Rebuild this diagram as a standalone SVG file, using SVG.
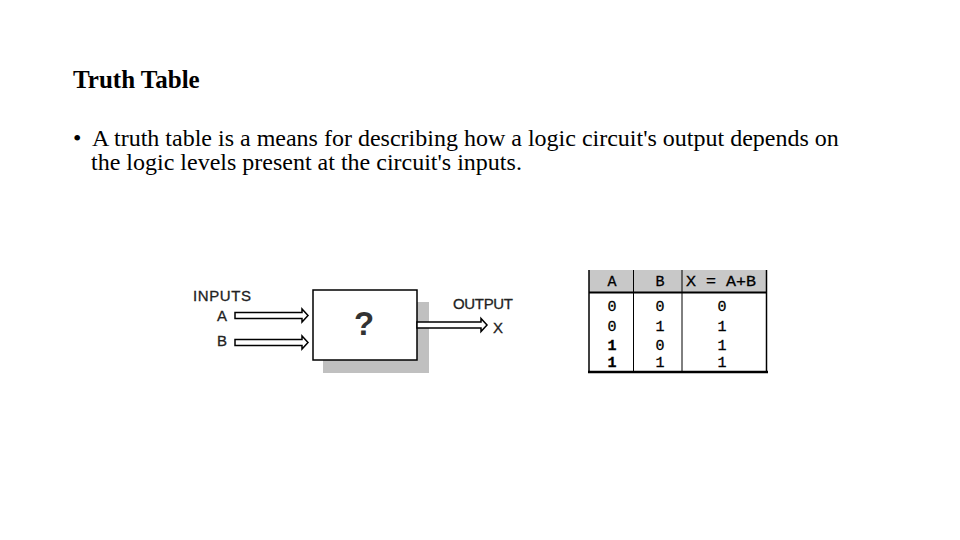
<svg xmlns="http://www.w3.org/2000/svg" width="960" height="540" viewBox="0 0 960 540">
<defs>
<style>
.title{font-family:"Liberation Serif",serif;font-weight:bold;font-size:25px;fill:#000}
.body{font-family:"Liberation Serif",serif;font-size:24px;fill:#000}
.lbl{font-family:"Liberation Sans",Arial,sans-serif;font-size:15px;fill:#222;stroke:#222;stroke-width:0.3}
.tt{font-family:"Liberation Mono",monospace;font-size:15px;fill:#000;stroke:#000;stroke-width:0.3;text-anchor:middle}
.hol{fill:#fff;stroke:#000;stroke-width:1.5}
</style>
</defs>
<rect width="960" height="540" fill="#fff"/>
<text class="title" x="73" y="88">Truth Table</text>
<text class="body" x="73" y="146">•</text>
<text class="body" x="92" y="146">A truth table is a means for describing how a logic circuit's output depends on</text>
<text class="body" x="91" y="170">the logic levels present at the circuit's inputs.</text>

<g id="block">
<rect x="323" y="302" width="106" height="71" fill="#c0c0c0"/>
<rect x="313" y="290" width="104" height="70" fill="#fff" stroke="#000" stroke-width="1.5"/>
<text x="364" y="335" font-family="Liberation Sans,Arial,sans-serif" font-weight="bold" font-size="33" fill="#333" text-anchor="middle">?</text>
</g>
<g id="labels">
<text class="lbl" x="193" y="301" textLength="58">INPUTS</text>
<text class="lbl" x="217" y="321">A</text>
<text class="lbl" x="217" y="346">B</text>
<text class="lbl" x="453" y="309" textLength="60">OUTPUT</text>
<text class="lbl" x="493" y="333">X</text>
</g>
<g id="connectors">
<path class="hol" d="M235,312.5 H302 V309 L308,315.5 L302,322 V318.5 H235 Z"/>
<path class="hol" d="M235,339.5 H302 V336 L308,342.5 L302,349 V345.5 H235 Z"/>
<path class="hol" d="M417,322 H481 V318.5 L487,325 L481,331.5 V328 H417 Z"/>
</g>
<g id="truth-table">
<rect x="589" y="270" width="178" height="22" fill="#c8c8c8"/>
<line x1="589" y1="292.5" x2="767" y2="292.5" stroke="#000" stroke-width="2"/>
<line x1="589" y1="270" x2="589" y2="372" stroke="#000" stroke-width="1.5"/>
<line x1="766.5" y1="270" x2="766.5" y2="372" stroke="#000" stroke-width="1.5"/>
<line x1="633.5" y1="270" x2="633.5" y2="372" stroke="#000" stroke-width="1"/>
<line x1="682" y1="270" x2="682" y2="372" stroke="#000" stroke-width="1"/>
<line x1="588" y1="372" x2="768" y2="372" stroke="#000" stroke-width="2.5"/>
<text class="tt" x="612" y="286">A</text>
<text class="tt" x="660" y="286">B</text>
<text class="tt" x="721" y="286" textLength="70" lengthAdjust="spacingAndGlyphs">X = A+B</text>
<text class="tt" x="612" y="311">0</text><text class="tt" x="660" y="311">0</text><text class="tt" x="722" y="311">0</text>
<text class="tt" x="612" y="331">0</text><text class="tt" x="660" y="331">1</text><text class="tt" x="722" y="331">1</text>
<text class="tt" x="612" y="350" font-weight="bold">1</text><text class="tt" x="660" y="350">0</text><text class="tt" x="722" y="350">1</text>
<text class="tt" x="612" y="367" font-weight="bold">1</text><text class="tt" x="660" y="367">1</text><text class="tt" x="722" y="367">1</text>
</g>
</svg>
